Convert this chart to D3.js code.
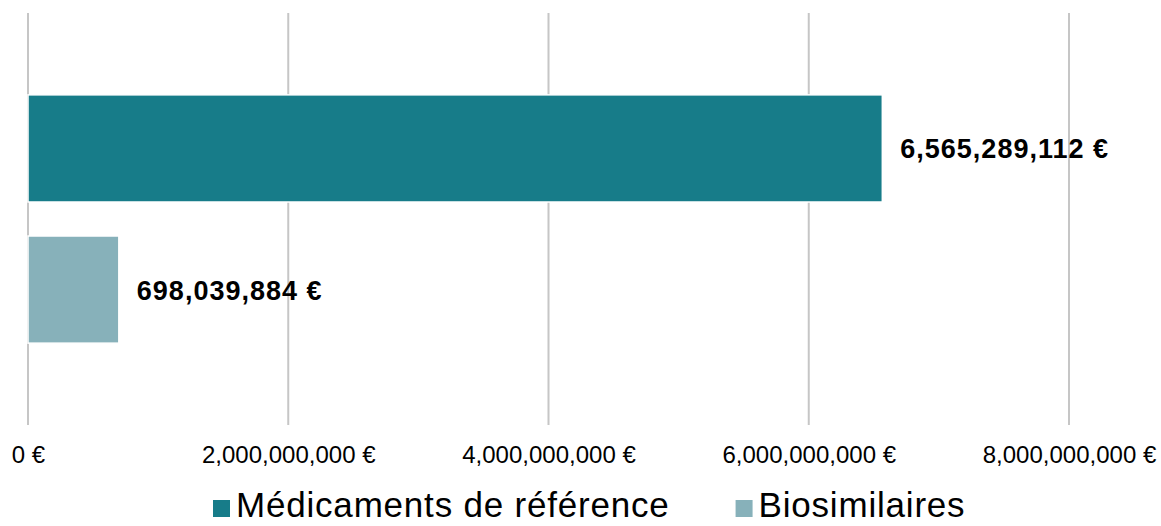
<!DOCTYPE html>
<html>
<head>
<meta charset="utf-8">
<script src="https://cdn.jsdelivr.net/npm/d3@7"></script>
<style>
  body { margin: 0; background: #fff; }
  svg { display: block; font-family: "Liberation Sans", Arial, sans-serif; }
</style>
</head>
<body>
<svg id="svg1" width="1161" height="526"></svg>
<script>
// data
var categories = ['Médicaments de référence', 'Biosimilaires'];
var values = [6565289112, 698039884];
var colors = ['#177c89', '#87b1ba'];
var tickValues = [0, 2000000000, 4000000000, 6000000000, 8000000000];

var svg = d3.select('#svg1');

var scaleX = d3.scaleLinear().domain([0, 8000000000]).range([28, 1069]);
var scaleY = d3.scaleBand().domain(categories).range([13, 425])
    .paddingInner(0.241).paddingOuter(0.58);

var fmt = d3.format(',');

// gridlines
svg.append('g')
    .selectAll('line')
    .data(tickValues)
    .enter()
    .append('line')
    .attr('x1', function(d){ return scaleX(d); })
    .attr('x2', function(d){ return scaleX(d); })
    .attr('y1', 13)
    .attr('y2', 425)
    .attr('stroke', '#c6c6c6')
    .attr('stroke-width', 2);

// bars
svg.append('g')
    .selectAll('rect')
    .data(values)
    .enter()
    .append('rect')
    .attr('x', scaleX(0))
    .attr('y', function(d, i){ return scaleY(categories[i]); })
    .attr('width', function(d){ return scaleX(d) - scaleX(0); })
    .attr('height', scaleY.bandwidth())
    .attr('fill', function(d, i){ return colors[i]; })
    .attr('stroke', '#fff')
    .attr('stroke-width', 1.5);

// value labels
svg.append('g')
    .selectAll('text')
    .data(values)
    .enter()
    .append('text')
    .attr('x', function(d){ return scaleX(d) + 18; })
    .attr('y', function(d, i){ return scaleY(categories[i]) + scaleY.bandwidth() / 2 + 10; })
    .attr('font-size', 27)
    .attr('font-weight', 'bold')
    .attr('letter-spacing', 1)
    .attr('fill', '#000')
    .text(function(d){ return fmt(d) + ' €'; });

// x axis labels
var axis = d3.axisBottom(scaleX)
    .tickValues(tickValues)
    .tickSize(0)
    .tickPadding(0)
    .tickFormat(function(d){ return fmt(d) + ' €'; });

var gx = svg.append('g')
    .attr('transform', 'translate(0,446)')
    .call(axis);
gx.select('.domain').remove();
gx.selectAll('text')
    .attr('font-size', 24)
    .attr('font-family', '"Liberation Sans", Arial, sans-serif')
    .attr('fill', '#000');

// legend
var legend = svg.append('g');
var lx = 213;
categories.forEach(function(c, i){
    legend.append('rect')
        .attr('x', lx)
        .attr('y', 500)
        .attr('width', 17)
        .attr('height', 17)
        .attr('fill', colors[i]);
    var t = legend.append('text')
        .attr('x', lx + 23)
        .attr('y', 517)
        .attr('font-size', 35)
        .attr('letter-spacing', 0.8)
        .attr('fill', '#000')
        .text(c);
    lx = lx + 23 + t.node().getComputedTextLength() + 66;
});
</script>
</body>
</html>
